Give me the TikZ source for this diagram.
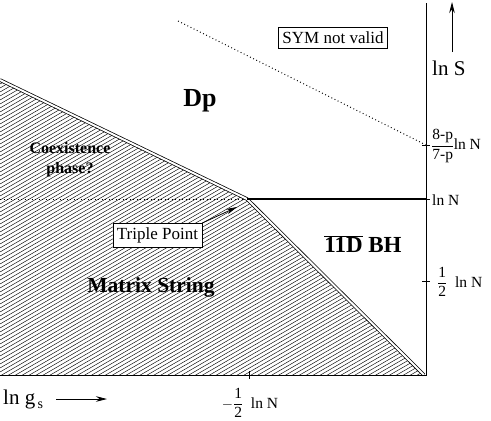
\documentclass[tikz,border=0pt]{standalone}
\usepackage{fontspec}
\setmainfont{Liberation Serif}
\usetikzlibrary{arrows.meta}
\begin{document}
\begin{tikzpicture}[x=1pt,y=-1pt,
  hatch/.style={line width=0.45pt},
  bnd/.style={double, double distance=2pt, line width=0.75pt},
  axisline/.style={line width=0.9pt},
  dotline/.style={line width=0.9pt, dash pattern=on 0.9pt off 2.6pt},
  boxed/.style={draw, line width=0.6pt, inner xsep=4pt, inner ysep=4.5pt, fill=white, font=\fontsize{17}{19}\selectfont},
  region/.style={font=\bfseries\fontsize{21.5}{24}\selectfont, inner sep=0pt},
  axlbl/.style={font=\fontsize{15.5}{17}\selectfont, inner sep=0pt, anchor=west},
  arr/.style={-{Stealth[length=11pt,width=5.5pt]}, line width=0.8pt},
  tick/.style={line width=0.7pt}]
\useasboundingbox (0,0) rectangle (491,421);
% key points
\coordinate (tl) at (0,80);
\coordinate (tp) at (247,199);
\coordinate (br) at (424,375);
\coordinate (bl) at (0,375);
\coordinate (ax0) at (426,375);
\coordinate (axtop) at (426,3);
\coordinate (lnN) at (426,199);
\coordinate (dl) at (0,199);
\coordinate (ds) at (178,21);
\coordinate (de) at (426,145);
% hatching
\begin{scope}
\clip (tl) -- (tp) -- (br) -- (bl) -- cycle;
\foreach \b in {80,84,...,680} \draw[hatch] (0,\b) -- (520,\b-300.2);
\end{scope}
% boundaries
\draw[dotline] (dl) -- (tp);
\draw[dotline] (ds) -- (de);
\draw[bnd] (tl) -- (tp) -- (br);
\draw[line width=1.5pt] (tp) -- (lnN);
\draw[axisline] (bl) -- (ax0) -- (axtop);
% ticks
\draw[tick] (422,145) -- (430,145);
\draw[tick] (426,199) -- (430,199);
\draw[tick] (422,281) -- (430,281);
\draw[tick] (249,371) -- (249,379);
% tick labels
\node[axlbl] (t1) at (431,146) {${\displaystyle\frac{\mbox{8-p}}{\mbox{7-p}}}$\kern-0.5pt ln N};
\node[axlbl] (t2) at (432,200) {ln N};
\node[axlbl] (t3) at (437,282) {${\displaystyle\frac{\mbox{1}}{\mbox{2}}}$\ \ ln N};
\node[font=\fontsize{15.5}{17}\selectfont, inner sep=0pt] (t4) at (250,403) {$-{\displaystyle\frac{\mbox{1}}{\mbox{2}}}$\ \ ln N};
% axis names
\node[font=\fontsize{21}{24}\selectfont, inner sep=0pt, anchor=west] (lnS) at (432,68) {ln S};
\coordinate (ua0) at (452,52);
\coordinate (ua1) at (452,2);
\draw[arr] (ua0) -- (ua1);
\node[font=\fontsize{21}{24}\selectfont, inner sep=0pt, anchor=west] (lng) at (3,399) {ln g\raisebox{-4pt}{\fontsize{14}{16}\selectfont\,s}};
\coordinate (ra0) at (56,399);
\coordinate (ra1) at (107,399);
\draw[arr] (ra0) -- (ra1);
% region labels
\node[region, font=\bfseries\fontsize{26}{28}\selectfont] (dp) at (200,101) {Dp};
\node[region, font=\bfseries\fontsize{16}{20}\selectfont, align=center] (co) at (70,160) {Coexistence\\phase?};
\node[region] (ms) at (151,287) {Matrix String};
\node[region, font=\bfseries\fontsize{23}{26}\selectfont] (bh) at (363,244) {$\overline{\mbox{11D}}$ BH};
% boxes
\node[boxed] (sym) at (333,37.5) {SYM not valid};
\node[boxed] (trip) at (157.5,235.5) {Triple Point};
\coordinate (tpa) at (237,207);
\draw[arr] (trip.north east) -- (tpa);
\end{tikzpicture}
\end{document}
